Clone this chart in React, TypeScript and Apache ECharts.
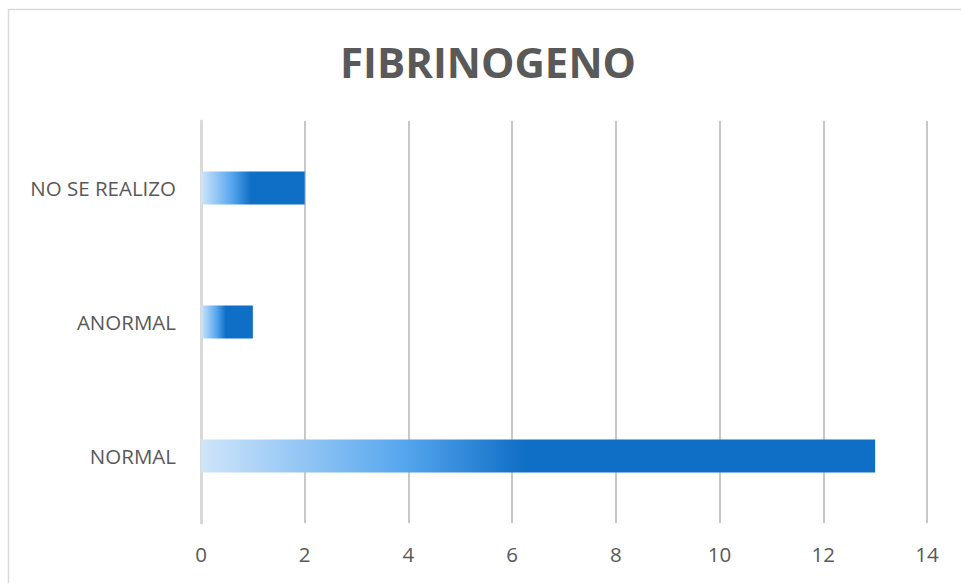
import React, { useEffect, useRef } from "react";
import * as echarts from "echarts";

const categories = ["NORMAL", "ANORMAL", "NO SE REALIZO"];
const counts = [13, 1, 2];
const xTicks = { min: 0, max: 14, interval: 2 };
const titleText = "FIBRINOGENO";

const barGradient = new echarts.graphic.LinearGradient(0, 0, 1, 0, [
  { offset: 0, color: "#cfe5fa" },
  { offset: 0.3, color: "#56a6ee" },
  { offset: 0.48, color: "#0f6ec5" },
  { offset: 1, color: "#0f6ec5" },
]);

export default function App() {
  const ref = useRef<HTMLDivElement>(null);

  useEffect(() => {
    if (!ref.current) return;
    const chart = echarts.init(ref.current, undefined, { renderer: "svg" });
    chart.setOption({
      animation: false,
      backgroundColor: "#ffffff",
      title: {
        text: titleText,
        left: 483,
        top: 35,
        textAlign: "center",
        textStyle: {
          fontFamily: "Open Sans",
          fontWeight: "bold",
          fontSize: 42,
          color: "#595959",
        },
      },
      graphic: [
        {
          type: "rect",
          shape: { x: 8.5, y: 9.5, width: 960, height: 600 },
          style: { fill: "none", stroke: "#d9d9d9", lineWidth: 1.5 },
          silent: true,
        },
      ],
      grid: { left: 201, right: 34, top: 121, bottom: 60, containLabel: false },
      xAxis: {
        type: "value",
        min: xTicks.min,
        max: xTicks.max,
        interval: xTicks.interval,
        axisLine: { show: false },
        axisTick: { show: false },
        splitLine: { show: true, lineStyle: { color: "#c8c8c8", width: 2 } },
        axisLabel: {
          margin: 20,
          fontFamily: "Open Sans",
          fontSize: 20.5,
          color: "#595959",
        },
      },
      yAxis: {
        type: "category",
        data: categories,
        axisLine: { show: true, lineStyle: { color: "#d9d9d9", width: 3 } },
        axisTick: { show: false },
        axisLabel: {
          margin: 25,
          fontFamily: "Open Sans",
          fontSize: 20.5,
          color: "#595959",
        },
      },
      series: [
        {
          type: "bar",
          data: counts,
          barWidth: 33,
          itemStyle: { color: barGradient },
        },
      ],
    });
    return () => chart.dispose();
  }, []);

  return (
    <div
      ref={ref}
      style={{ position: "absolute", left: 0, top: 0, width: 961, height: 583 }}
    />
  );
}
